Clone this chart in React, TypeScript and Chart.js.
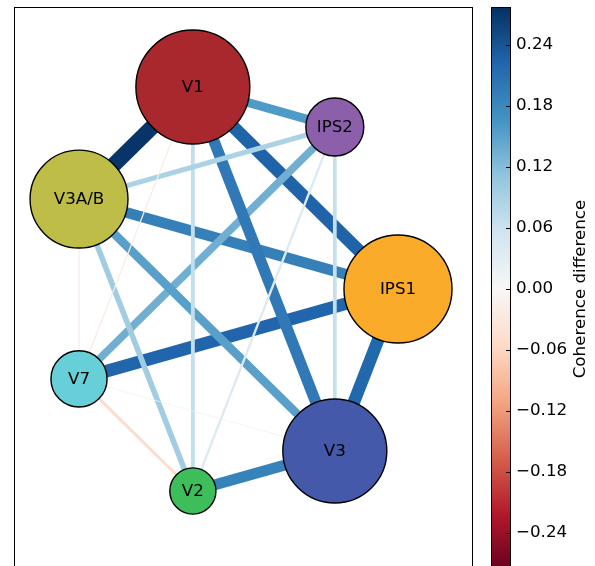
import React, { useEffect, useRef } from "react";
import { Chart, registerables } from "chart.js";

Chart.register(...registerables);

// ---- Data ----
const nodeLabels = ["IPS1", "IPS2", "V1", "V3A/B", "V7", "V2", "V3"];
// circular layout positions
const nodeX = [1.0, 0.6235, -0.2225, -0.901, -0.901, -0.2225, 0.6235];
const nodeY = [0.0, 0.7818, 0.9749, 0.4339, -0.4339, -0.9749, -0.7818];
// node weight (area-like quantity)
const nodeWeight = [2.85, 0.82, 3.17, 2.34, 0.77, 0.52, 2.64];
const nodeColors = ["#f9ab29", "#8c5fab", "#a9282e", "#bdbd48", "#66cfd8", "#3dbe5b", "#4459a9"];

// edges, drawn bottom -> top
const edgeSource = ["V1", "IPS1", "IPS1", "V3A/B", "IPS2", "V1", "V3A/B", "V1", "IPS2", "V1", "V1", "IPS2", "IPS2", "V3A/B", "V3", "V7", "V1", "V3A/B", "V7"];
const edgeTarget = ["IPS1", "V7", "V3", "IPS1", "V7", "V3", "V3", "V2", "V2", "V3A/B", "IPS2", "V3A/B", "V3", "V2", "V2", "V2", "V7", "V7", "V3"];
const edgeValue = [0.225, 0.222, 0.22, 0.19, 0.135, 0.198, 0.152, 0.068, 0.04, 0.272, 0.158, 0.088, 0.066, 0.098, 0.188, -0.052, -0.022, -0.014, 0.014];

const colorMin = -0.2775;
const colorMax = 0.2775;
const colorbarTicks = [-0.24, -0.18, -0.12, -0.06, 0.0, 0.06, 0.12, 0.18, 0.24];
const colorbarLabel = "Coherence difference";

// RdBu colormap
const rdbuStops: [number, string][] = [
  [0.0, "#67001f"], [0.1, "#b2182b"], [0.2, "#d6604d"], [0.3, "#f4a582"], [0.4, "#fddbc7"],
  [0.5, "#f7f7f7"], [0.6, "#d1e5f0"], [0.7, "#92c5de"], [0.8, "#4393c3"], [0.9, "#2166ac"], [1.0, "#053061"],
];

function hexToRgb(h: string) {
  return [parseInt(h.slice(1, 3), 16), parseInt(h.slice(3, 5), 16), parseInt(h.slice(5, 7), 16)];
}
function rdbu(v: number) {
  let t = (v - colorMin) / (colorMax - colorMin);
  t = Math.max(0, Math.min(1, t));
  for (let i = 0; i < rdbuStops.length - 1; i++) {
    const [t0, c0] = rdbuStops[i];
    const [t1, c1] = rdbuStops[i + 1];
    if (t >= t0 && t <= t1) {
      const f = (t - t0) / (t1 - t0);
      const a = hexToRgb(c0), b = hexToRgb(c1);
      const c = a.map((x, k) => Math.round(x + (b[k] - x) * f));
      return `rgb(${c[0]},${c[1]},${c[2]})`;
    }
  }
  return rdbuStops[rdbuStops.length - 1][1];
}

const FONT = '"DejaVu Sans", sans-serif';
const FS = 16.7;

const extrasPlugin = {
  id: "extras",
  afterDatasetsDraw(chart: any) {
    const { ctx, scales } = chart;
    const x = scales.x, y = scales.y;
    ctx.save();
    ctx.font = `${FS}px ${FONT}`;
    ctx.fillStyle = "#000";
    ctx.textAlign = "center";
    ctx.textBaseline = "middle";
    nodeLabels.forEach((l, i) => {
      ctx.fillText(l, x.getPixelForValue(nodeX[i]), y.getPixelForValue(nodeY[i]) + 1);
    });
    ctx.restore();
  },
  afterDraw(chart: any) {
    const { ctx, chartArea: a, scales } = chart;
    const cb = scales.cb;
    ctx.save();
    // axes frame
    ctx.strokeStyle = "#000";
    ctx.lineWidth = 1;
    ctx.strokeRect(Math.round(a.left) + 0.5, Math.round(a.top) + 0.5, Math.round(a.right - a.left), Math.round(a.bottom - a.top));
    // colorbar
    const top = cb.getPixelForValue(colorMax);
    const bot = cb.getPixelForValue(colorMin);
    const bx = Math.round(a.right) + 19;
    const bw = 19;
    const g = ctx.createLinearGradient(0, bot, 0, top);
    rdbuStops.forEach(([t, c]) => g.addColorStop(t, c));
    ctx.fillStyle = g;
    ctx.fillRect(bx, top, bw, bot - top);
    ctx.strokeRect(bx + 0.5, Math.round(top) + 0.5, bw, Math.round(bot - top));
    // inward tick marks
    ctx.beginPath();
    colorbarTicks.forEach((v) => {
      const py = Math.round(cb.getPixelForValue(v)) + 0.5;
      ctx.moveTo(bx + bw - 4, py);
      ctx.lineTo(bx + bw, py);
    });
    ctx.stroke();
    // colorbar label
    ctx.fillStyle = "#000";
    ctx.font = `${FS}px ${FONT}`;
    ctx.textAlign = "center";
    ctx.textBaseline = "middle";
    ctx.translate(cb.right - 14, (top + bot) / 2);
    ctx.rotate(-Math.PI / 2);
    ctx.fillText(colorbarLabel, 0, 0);
    ctx.restore();
  },
};

export default function App() {
  const ref = useRef<HTMLCanvasElement>(null);
  useEffect(() => {
    if (!ref.current) return;
    const edgeSets = edgeSource.map((s, i) => {
      const a = nodeLabels.indexOf(s);
      const b = nodeLabels.indexOf(edgeTarget[i]);
      const v = edgeValue[i];
      return {
        type: "scatter",
        data: [
          { x: nodeX[a], y: nodeY[a] },
          { x: nodeX[b], y: nodeY[b] },
        ],
        showLine: true,
        borderColor: rdbu(v),
        borderWidth: Math.max(0.8, Math.abs(v) * 57),
        borderCapStyle: "butt",
        pointRadius: 0,
        pointHoverRadius: 0,
        order: 100 - i,
        xAxisID: "x",
        yAxisID: "y",
      };
    });
    const nodeSet = {
      type: "scatter",
      data: nodeX.map((x, i) => ({ x, y: nodeY[i] })),
      showLine: false,
      pointRadius: nodeWeight.map((w) => 32 * Math.sqrt(w)),
      pointHoverRadius: nodeWeight.map((w) => 32 * Math.sqrt(w)),
      pointBackgroundColor: nodeColors,
      pointBorderColor: "#000",
      pointBorderWidth: 1.4,
      pointHoverBorderWidth: 1.4,
      order: 0,
      xAxisID: "x",
      yAxisID: "y",
    };
    const chart = new Chart(ref.current, {
      type: "scatter",
      data: { datasets: [nodeSet, ...edgeSets] as any },
      options: {
        animation: false,
        responsive: false,
        devicePixelRatio: 1,
        events: [],
        layout: { autoPadding: false, padding: { left: 14, top: 7, right: 0, bottom: 9 } },
        plugins: { legend: { display: false }, tooltip: { enabled: false } },
        scales: {
          x: { type: "linear", display: false, min: -1.2884, max: 1.441 },
          y: { type: "linear", display: false, min: -1.361, max: 1.361 },
          cb: {
            type: "linear",
            position: "right",
            display: true,
            min: colorMin,
            max: colorMax,
            grid: { display: false },
            border: { display: false },
            ticks: {
              padding: 36,
              color: "#000",
              font: { family: FONT, size: FS },
              callback: (v: any) => {
                const n = Number(v);
                const s = Math.abs(n).toFixed(2);
                return n < -1e-9 ? "\u2212" + s : s;
              },
            },
            afterBuildTicks: (s: any) => {
              s.ticks = colorbarTicks.map((v) => ({ value: v }));
            },
            afterFit: (s: any) => {
              s.width = 123;
              s.paddingTop = 0;
              s.paddingBottom = 0;
              s.paddingLeft = 0;
              s.paddingRight = 0;
            },
          } as any,
        },
      },
      plugins: [extrasPlugin],
    } as any);
    return () => chart.destroy();
  }, []);
  return (
    <div style={{ position: "fixed", left: 0, top: 0, width: 595, height: 566, overflow: "hidden", background: "#fff" }}>
      <canvas ref={ref} width={595} height={580} style={{ display: "block" }} />
    </div>
  );
}
